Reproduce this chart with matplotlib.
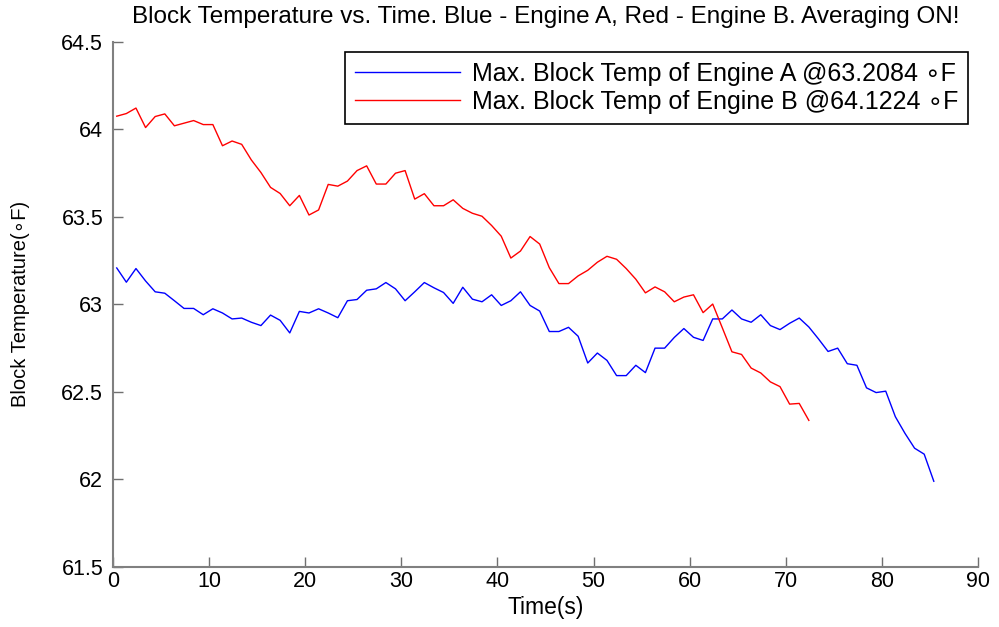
import numpy as np
import matplotlib
matplotlib.use('Agg')
import matplotlib.pyplot as plt

plt.rcParams['font.family'] = ['Liberation Sans', 'DejaVu Sans']

# block temperatures (F), one sample per second starting at t0
t0 = 0.4
dt = 1.0
temp_a = [63.2084, 63.127, 63.205, 63.134, 63.072, 63.064, 63.021, 62.977, 62.977, 62.941,
          62.975, 62.951, 62.917, 62.922, 62.898, 62.879, 62.939, 62.909, 62.837, 62.960,
          62.951, 62.975, 62.951, 62.924, 63.021, 63.028, 63.081, 63.089, 63.125, 63.089,
          63.021, 63.072, 63.125, 63.095, 63.068, 63.006, 63.098, 63.030, 63.015, 63.055,
          62.994, 63.021, 63.072, 62.994, 62.962, 62.845, 62.845, 62.869, 62.818, 62.665,
          62.722, 62.680, 62.593, 62.593, 62.652, 62.610, 62.750, 62.750, 62.811, 62.862,
          62.812, 62.794, 62.917, 62.917, 62.968, 62.917, 62.898, 62.941, 62.879, 62.856,
          62.892, 62.922, 62.871, 62.803, 62.731, 62.750, 62.661, 62.652, 62.523, 62.496,
          62.504, 62.358, 62.263, 62.178, 62.144, 61.989]
temp_b = [64.076, 64.091, 64.1224, 64.011, 64.074, 64.089, 64.021, 64.036, 64.051, 64.028,
          64.028, 63.907, 63.934, 63.915, 63.826, 63.754, 63.669, 63.634, 63.564, 63.623,
          63.511, 63.540, 63.686, 63.676, 63.705, 63.765, 63.792, 63.688, 63.688, 63.750,
          63.765, 63.602, 63.633, 63.564, 63.564, 63.598, 63.549, 63.521, 63.504, 63.451,
          63.390, 63.265, 63.305, 63.388, 63.345, 63.210, 63.119, 63.119, 63.163, 63.195,
          63.241, 63.275, 63.258, 63.205, 63.144, 63.066, 63.100, 63.072, 63.015, 63.042,
          63.055, 62.953, 63.002, 62.866, 62.729, 62.714, 62.636, 62.608, 62.557, 62.530,
          62.430, 62.434, 62.337]

x_ticks = [0, 10, 20, 30, 40, 50, 60, 70, 80, 90]
y_ticks = [61.5, 62, 62.5, 63, 63.5, 64, 64.5]
y_ticklabels = ['61.5', '62', '62.5', '63', '63.5', '64', '64.5']

time_a = t0 + dt * np.arange(len(temp_a))
time_b = t0 + dt * np.arange(len(temp_b))

fig = plt.figure(figsize=(9.99, 6.27), dpi=100)
ax = fig.add_axes([0.113, 0.096, 0.866, 0.837])

ax.plot(time_a, temp_a, color='#0000ff', lw=1.0,
        label='Max. Block Temp of Engine A @%.4f \u2218F' % max(temp_a))
ax.plot(time_b, temp_b, color='#ff0000', lw=1.0,
        label='Max. Block Temp of Engine B @%.4f \u2218F' % max(temp_b))

ax.set_xlim(0, 90)
ax.set_ylim(61.5, 64.5)
ax.set_xticks(x_ticks)
ax.set_yticks(y_ticks)
ax.set_yticklabels(y_ticklabels)
ax.tick_params(direction='in', length=7, width=1, colors='#707070',
               labelcolor='black', labelsize=15.5)
ax.tick_params(axis='y', pad=7)
ax.tick_params(axis='x', pad=3)

for s in ['top', 'right']:
    ax.spines[s].set_visible(False)
for s in ['left', 'bottom']:
    ax.spines[s].set_color('#808080')
    ax.spines[s].set_linewidth(1.5)

ax.set_xlabel('Time(s)', fontsize=16.5, va='top')
ax.xaxis.set_label_coords(0.5, -0.056)
ax.set_ylabel('Block Temperature(\u2218F)', fontsize=14.5)
ax.yaxis.set_label_coords(-0.096, 0.5)
ax.set_title('Block Temperature vs. Time. Blue - Engine A, Red - Engine B. Averaging ON!',
             fontsize=17.5, pad=14)

leg = ax.legend(loc='upper right', bbox_to_anchor=(0.9885, 0.981), fontsize=18,
                handlelength=4.2, handletextpad=0.45, borderpad=0.4,
                labelspacing=0.15, fancybox=False, framealpha=1, borderaxespad=0)
leg.get_frame().set_edgecolor('black')
leg.get_frame().set_linewidth(1.2)

fig.savefig('out.png', dpi=100)
